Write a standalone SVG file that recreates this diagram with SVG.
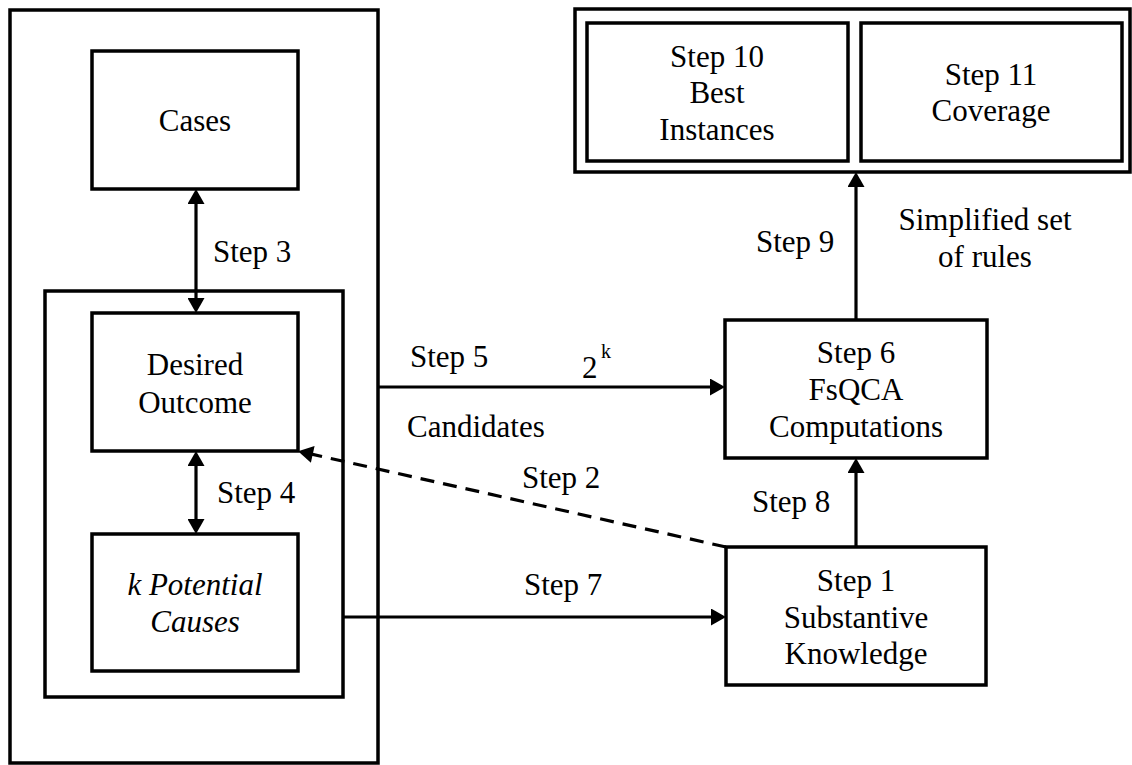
<svg xmlns="http://www.w3.org/2000/svg" width="1132" height="765" viewBox="0 0 1132 765">
  <style>
    .box { fill: none; stroke: #000; stroke-width: 3.5; }
    .conn { fill: none; stroke: #000; stroke-width: 3.2; }
    .dash { stroke-dasharray: 14 9; }
    .c { text-anchor: middle; }
    .it { font-style: italic; }
  </style>
  <defs>
    <!-- filled triangular head; tip sits 4px beyond the path end -->
    <marker id="arrow" markerUnits="userSpaceOnUse" markerWidth="16" markerHeight="17" viewBox="0 0 15 17" refX="11" refY="8.5" orient="auto-start-reverse">
      <path d="M0,0 L15,8.5 L0,17 z" fill="#000"/>
    </marker>
  </defs>

  <rect width="1132" height="765" fill="#fff"/>

  <!-- containers -->
  <g id="left-frame"><rect class="box" x="10" y="10" width="368" height="753"/></g>
  <g id="inner-frame"><rect class="box" x="45" y="291" width="298" height="406"/></g>
  <g id="results-frame"><rect class="box" x="575" y="9" width="555" height="163"/></g>

  <g font-family="'Liberation Serif', 'Times New Roman', serif" font-size="31" fill="#000">
    <!-- nodes -->
    <g id="cases">
      <rect class="box" x="92" y="51" width="206" height="138"/>
      <text class="c" x="195" y="131">Cases</text>
    </g>
    <g id="desired-outcome">
      <rect class="box" x="92" y="313" width="206" height="138"/>
      <text class="c" x="195" y="375">Desired</text>
      <text class="c" x="195" y="413">Outcome</text>
    </g>
    <g id="potential-causes">
      <rect class="box" x="92" y="534" width="206" height="137"/>
      <text class="c it" x="195" y="595">k Potential</text>
      <text class="c it" x="195" y="632">Causes</text>
    </g>
    <g id="step6">
      <rect class="box" x="725" y="320" width="262" height="138"/>
      <text class="c" x="856" y="363">Step 6</text>
      <text class="c" x="856" y="400">FsQCA</text>
      <text class="c" x="856" y="437">Computations</text>
    </g>
    <g id="step1">
      <rect class="box" x="726" y="547" width="260" height="138"/>
      <text class="c" x="856" y="591">Step 1</text>
      <text class="c" x="856" y="628">Substantive</text>
      <text class="c" x="856" y="664">Knowledge</text>
    </g>
    <g id="step10">
      <rect class="box" x="587" y="23" width="261" height="138"/>
      <text class="c" x="717" y="67">Step 10</text>
      <text class="c" x="717" y="103">Best</text>
      <text class="c" x="717" y="140">Instances</text>
    </g>
    <g id="step11">
      <rect class="box" x="861" y="23" width="261" height="138"/>
      <text class="c" x="991" y="85">Step 11</text>
      <text class="c" x="991" y="121">Coverage</text>
    </g>

    <!-- connectors -->
    <g id="connectors">
      <path class="conn" d="M196,193 L196,309" marker-start="url(#arrow)" marker-end="url(#arrow)"/>
      <path class="conn" d="M196,455 L196,530" marker-start="url(#arrow)" marker-end="url(#arrow)"/>
      <path class="conn" d="M378,387 L721,387" marker-end="url(#arrow)"/>
      <path class="conn" d="M343,617 L722,617" marker-end="url(#arrow)"/>
      <path class="conn" d="M856,547 L856,462" marker-end="url(#arrow)"/>
      <path class="conn" d="M856,320 L856,176" marker-end="url(#arrow)"/>
      <path class="conn dash" d="M726,547 L302,452" marker-end="url(#arrow)"/>
    </g>

    <!-- connector labels -->
    <g id="labels">
      <text x="213" y="262">Step 3</text>
      <text x="217" y="503">Step 4</text>
      <text x="410" y="367">Step 5</text>
      <text x="582" y="378">2</text>
      <text x="601" y="358" font-size="20">k</text>
      <text x="407" y="437">Candidates</text>
      <text x="522" y="488">Step 2</text>
      <text x="524" y="595">Step 7</text>
      <text x="752" y="512">Step 8</text>
      <text x="756" y="252">Step 9</text>
      <text class="c" x="985" y="230">Simplified set</text>
      <text class="c" x="985" y="267">of rules</text>
    </g>
  </g>
</svg>
